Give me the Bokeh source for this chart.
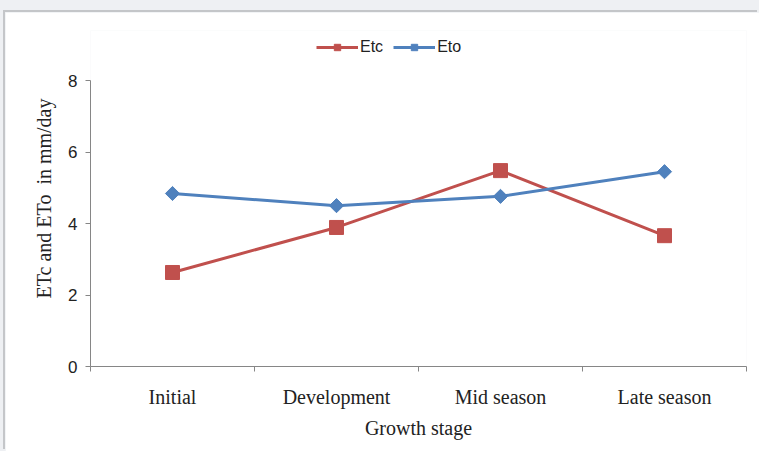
from bokeh.plotting import figure
from bokeh.models import Range1d, FixedTicker, Legend, LegendItem, ColumnDataSource
from bokeh.layouts import column
from bokeh.embed import file_html
from bokeh.resources import INLINE

stages = ["Initial", "Development", "Mid season", "Late season"]
etc = [2.63, 3.89, 5.48, 3.66]
eto = [4.84, 4.50, 4.76, 5.45]
y_ticks = [0, 2, 4, 6, 8]

RED = "#c0504d"
BLUE = "#4f81bd"
AXIS = "#868686"

xc = [i + 0.5 for i in range(len(stages))]
src = ColumnDataSource(dict(x=xc, etc=etc, eto=eto))

p = figure(width=754, height=439, output_backend="svg", toolbar_location=None,
           x_range=Range1d(0, len(stages)), y_range=Range1d(0, 9.4),
           min_border_left=85, min_border_right=13, min_border_top=18,
           min_border_bottom=85)
p.margin = (12, 0, 0, 5)
p.styles = {"box-shadow": "-2px -2px 0 0 #c4c6c9"}
p.background_fill_color = "white"
p.border_fill_color = "white"
p.outline_line_color = None
p.grid.visible = False

l1 = p.line("x", "etc", source=src, line_color=RED, line_width=3)
s1 = p.scatter("x", "etc", source=src, marker="square", size=14,
               fill_color=RED, line_color=RED)
l2 = p.line("x", "eto", source=src, line_color=BLUE, line_width=3)
s2 = p.scatter("x", "eto", source=src, marker="square", angle=0.7854, size=10,
               fill_color=BLUE, line_color=BLUE)

# x axis: labels at centres, ticks at boundaries
xa = p.xaxis[0]
xa.ticker = FixedTicker(ticks=xc, minor_ticks=list(range(len(stages) + 1)))
xa.major_label_overrides = {v: s for v, s in zip(xc, stages)}
xa.major_tick_out = 0
xa.major_tick_in = 0
xa.minor_tick_out = 5
xa.minor_tick_in = 0
xa.minor_tick_line_color = AXIS
xa.axis_line_color = AXIS
xa.major_label_standoff = 14
xa.major_label_text_font = "Liberation Serif"
xa.major_label_text_font_size = "20px"
xa.major_label_text_color = "#222222"
xa.axis_label = "Growth stage"
xa.axis_label_text_font = "Liberation Serif"
xa.axis_label_text_font_size = "20px"
xa.axis_label_text_font_style = "normal"
xa.axis_label_text_color = "#222222"
xa.axis_label_standoff = 6

ya = p.yaxis[0]
ya.ticker = FixedTicker(ticks=y_ticks, minor_ticks=[])
ya.bounds = (0, 8)
ya.major_tick_out = 5
ya.major_tick_in = 0
ya.major_tick_line_color = AXIS
ya.axis_line_color = AXIS
ya.major_label_standoff = 8
ya.major_label_text_font = "Liberation Sans"
ya.major_label_text_font_size = "17px"
ya.major_label_text_color = "#222222"
ya.axis_label = "ETc and ETo\u00a0 in mm/day"
ya.axis_label_text_font = "Liberation Serif"
ya.axis_label_text_font_size = "20px"
ya.axis_label_text_font_style = "normal"
ya.axis_label_text_color = "#222222"
ya.axis_label_standoff = 10

legend = Legend(items=[LegendItem(label="Etc", renderers=[l1, s1]),
                       LegendItem(label="Eto", renderers=[l2, s2])],
                orientation="horizontal", location=(226, 310))
legend.border_line_color = None
legend.background_fill_alpha = 0
legend.glyph_width = 42
legend.glyph_height = 16
legend.label_text_font = "Liberation Sans"
legend.label_text_font_size = "16px"
legend.label_text_color = "#222222"
legend.label_standoff = 2
legend.spacing = 10
legend.padding = 0
legend.margin = 0
p.add_layout(legend, "center")

layout = column(p, width=759, height=451,
                styles={"background-color": "#eef0f3"})

open("out.html", "w").write(file_html(layout, INLINE))
